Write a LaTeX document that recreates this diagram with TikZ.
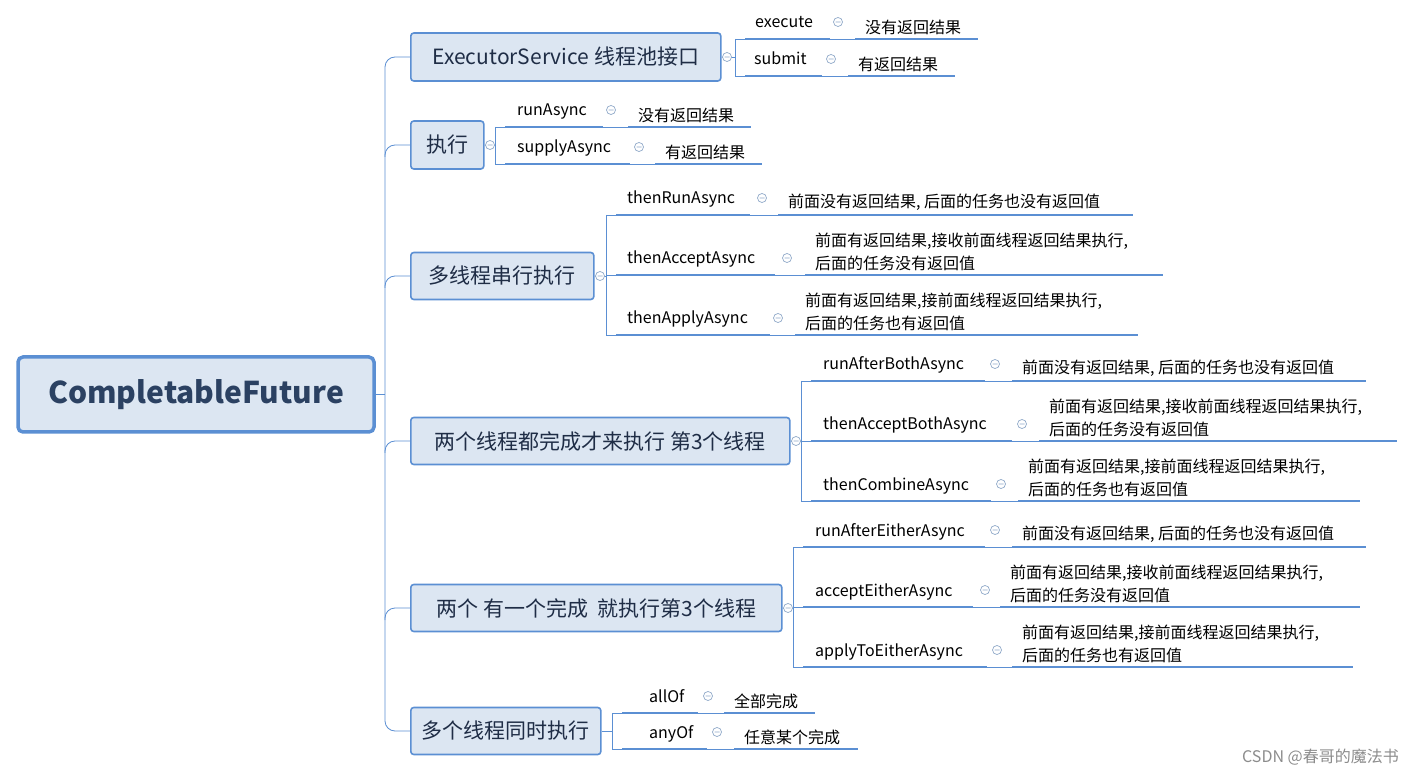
\documentclass[tikz,border=0pt]{standalone}
\usepackage{fontspec}
\setmainfont{Noto Sans CJK SC}
\definecolor{ln}{HTML}{5B8FD3}
\definecolor{bf}{HTML}{DCE6F2}
\definecolor{tx}{HTML}{1F2D46}
\definecolor{cc}{HTML}{8FA8C8}
\tikzset{
 br/.style={draw=ln,line width=1.6pt,fill=bf,rounded corners=3pt,text=tx,font=\fontsize{21}{24}\selectfont,anchor=west,inner sep=0pt},
 lt/.style={font=\fontsize{16}{19}\selectfont,inner sep=0pt,text=black},
 rt/.style={font=\fontsize{16}{23}\selectfont,inner sep=0pt,align=left,text=black},
 uline/.style={draw=ln,line width=2.2pt},
 thinl/.style={draw=ln,line width=0.8pt},
}
\newcommand\leaf[9]{%
 \draw[thinl] (#1,#2) -- (#1+10,#2);
 \draw[uline] (#1+10,#2) -- (#5,#2);
 \draw[thinl] (#5,#2) -- (#7,#2);
 \draw[uline] (#7,#2) -- (#8,#2);
 \node[lt,anchor=base west] (l#3) at (#3,#2-11) {#4};
 \draw[cc,line width=0.7pt] (#6,#2-17) circle (4.5) (#6-2.5,#2-17) -- (#6+2.5,#2-17);
 \node[rt,anchor=south west] (r#3) at (#7+10,#2-4) {#9};
}
\newcommand\bopen[2]{\draw[cc,line width=0.7pt,fill=white] (#1,#2) circle (4.5) (#1-2.5,#2) -- (#1+2.5,#2);}
\begin{document}
\begin{tikzpicture}[x=1pt,y=-1pt]
\useasboundingbox (0,0) rectangle (1414,775);
% trunk
\draw[thinl,rounded corners=10pt] (410,57) -- (385,57) -- (385,731) -- (410,731);
\foreach \y in {145,276,441,608} \draw[thinl,rounded corners=10pt] (410,\y) -- (385,\y) -- (385,\y+12);
\node[draw=ln,line width=3.5pt,fill=bf,rounded corners=5pt,minimum width=356pt,minimum height=75pt,text=tx!80!ln,font=\fontsize{30}{34}\selectfont\bfseries] (root) at (196,394.5) {CompletableFuture};
\draw[thinl] (root.east) -- (385,394.5);
% branches
\node[br,minimum width=310pt,minimum height=48pt] (b1) at (410,57) {ExecutorService 线程池接口};
\node[br,minimum width=73pt,minimum height=48pt] (b2) at (410,145) {执行};
\node[br,minimum width=183pt,minimum height=47pt] (b3) at (410,276) {多线程串行执行};
\node[br,minimum width=379pt,minimum height=47pt] (b4) at (410,441) {两个线程都完成才来执行 第3个线程};
\node[br,minimum width=371pt,minimum height=47pt] (b5) at (410,608) {两个 有一个完成\ \ 就执行第3个线程};
\node[br,minimum width=190pt,minimum height=47pt] (b6) at (410,731) {多个线程同时执行};
% brackets
\draw[thinl] (b1.east)--(735,57) (735,39)--(735,76);
\draw[thinl] (b2.east)--(495,145) (495,127)--(495,164);
\draw[thinl] (b3.east)--(606,276) (606,215)--(606,335);
\draw[thinl] (b4.east)--(801,441) (801,381)--(801,501);
\draw[thinl] (b5.east)--(793,608) (793,547)--(793,667);
\draw[thinl] (b6.east)--(612,731) (612,713)--(612,749);
\bopen{727}{57}\bopen{490}{145}\bopen{600}{276}\bopen{796}{441}\bopen{788}{608}
% leaves
\leaf{735}{39}{755}{execute}{830}{838}{855}{978}{没有返回结果}
\leaf{735}{76}{754}{submit}{822}{831}{848}{955}{有返回结果}
\leaf{495}{127}{517}{runAsync}{603}{611}{628}{751}{没有返回结果}
\leaf{495}{164}{517}{supplyAsync}{630}{639}{655}{762}{有返回结果}
\leaf{606}{215}{627}{thenRunAsync}{750}{762}{778}{1133}{前面没有返回结果, 后面的任务也没有返回值}
\leaf{606}{275}{627}{thenAcceptAsync}{775}{787}{805}{1163}{前面有返回结果,接收前面线程返回结果执行,\\后面的任务没有返回值}
\leaf{606}{335}{627}{thenApplyAsync}{770}{778}{795}{1138}{前面有返回结果,接前面线程返回结果执行,\\后面的任务也有返回值}
\leaf{801}{381}{823}{runAfterBothAsync}{985}{995}{1012}{1366}{前面没有返回结果, 后面的任务也没有返回值}
\leaf{801}{441}{823}{thenAcceptBothAsync}{1012}{1022}{1039}{1397}{前面有返回结果,接收前面线程返回结果执行,\\后面的任务没有返回值}
\leaf{801}{501}{823}{thenCombineAsync}{991}{1001}{1018}{1360}{前面有返回结果,接前面线程返回结果执行,\\后面的任务也有返回值}
\leaf{793}{547}{815}{runAfterEitherAsync}{985}{995}{1012}{1366}{前面没有返回结果, 后面的任务也没有返回值}
\leaf{793}{607}{815}{acceptEitherAsync}{973}{985}{1000}{1360}{前面有返回结果,接收前面线程返回结果执行,\\后面的任务没有返回值}
\leaf{793}{667}{815}{applyToEitherAsync}{987}{997}{1012}{1353}{前面有返回结果,接前面线程返回结果执行,\\后面的任务也有返回值}
\leaf{612}{713}{649}{allOf}{698}{708}{724}{815}{全部完成}
\leaf{612}{749}{649}{anyOf}{707}{717}{734}{858}{任意某个完成}
\node[anchor=east,inner sep=0pt,text=black!45,font=\fontsize{16}{19}\selectfont] (wm) at (1399,757) {CSDN @春哥的魔法书};
\end{tikzpicture}
\end{document}
